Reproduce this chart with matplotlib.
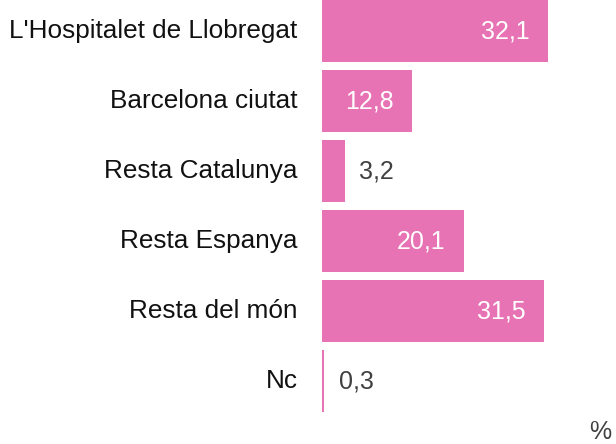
import matplotlib
matplotlib.use("Agg")
import matplotlib.pyplot as plt

plt.rcParams['font.family'] = ['Liberation Sans', 'DejaVu Sans']

categories = ["L'Hospitalet de Llobregat", "Barcelona ciutat", "Resta Catalunya",
              "Resta Espanya", "Resta del món", "Nc"]
values = [32.1, 12.8, 3.2, 20.1, 31.5, 0.3]
labels = ["32,1", "12,8", "3,2", "20,1", "31,5", "0,3"]

bar_color = '#E773B4'

fig = plt.figure(figsize=(6.16, 4.44), dpi=100)
ax = fig.add_axes([322 / 616, 0, 294 / 616, 1])

pos = list(range(len(values)))
ax.barh(pos, values, height=62 / 70, color=bar_color)
ax.set_xlim(0, 294 / 7.04)
ax.set_ylim((444 - 31) / 70, -31 / 70)
ax.axis('off')

for i, (v, lab, cat) in enumerate(zip(values, labels, categories)):
    if v > 5:
        ax.annotate(lab, (v, i), xytext=(-13, 0), textcoords='offset points',
                    ha='right', va='center', color='white', fontsize=18)
    else:
        ax.annotate(lab, (v, i), xytext=(10.5, 0), textcoords='offset points',
                    ha='left', va='center', color='#404040', fontsize=18)
    ax.annotate(cat, (0, i), xytext=(-17.5, 0), textcoords='offset points',
                ha='right', va='center', color='#111111', fontsize=18.8)

fig.text(611 / 616, 1 - 432 / 444, '%', ha='right', va='center', color='#404040', fontsize=18)

fig.savefig('out.png', dpi=100)
